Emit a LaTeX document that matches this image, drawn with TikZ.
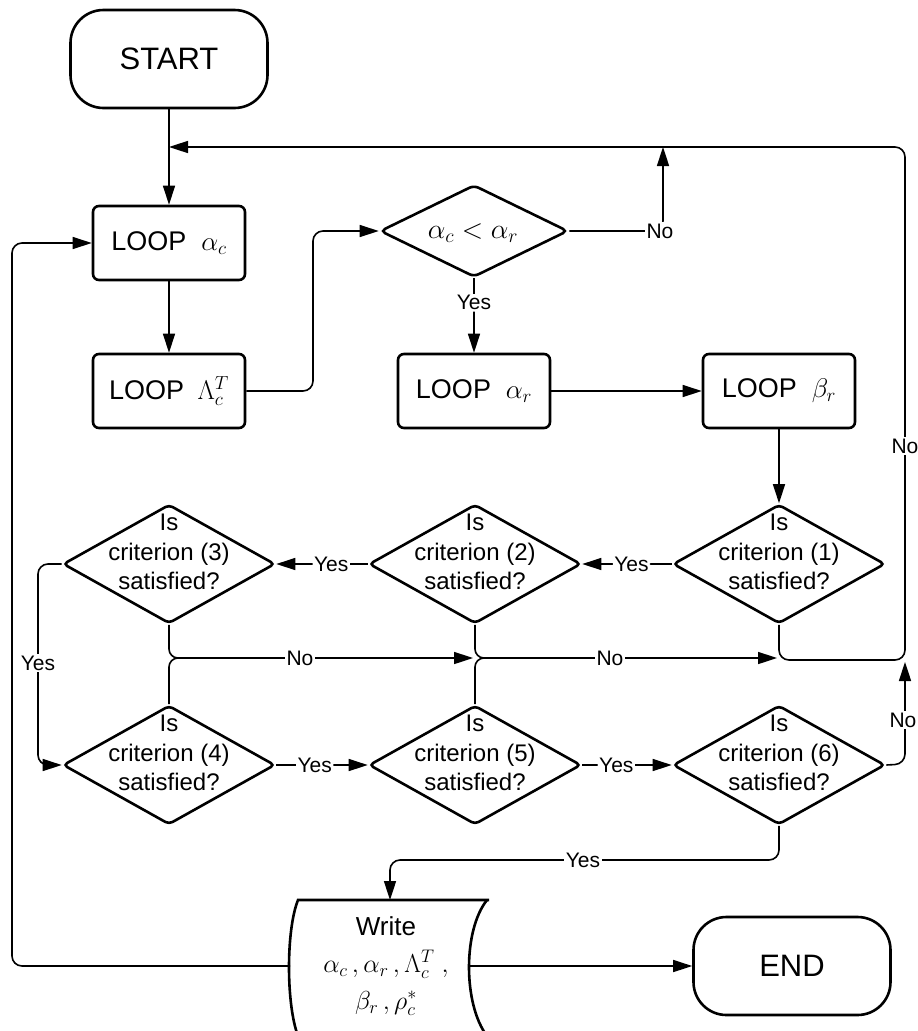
\RequirePackage{fix-cm}
\documentclass[tikz,border=0pt]{standalone}
\usepackage{fontspec}
\setmainfont{Liberation Sans}
\usetikzlibrary{arrows.meta,shapes.geometric}
\begin{document}
\begin{tikzpicture}[x=1pt,y=-1pt,
  shp/.style={draw, line width=2.6pt},
  term/.style={shp, rounded corners=33pt, minimum width=197pt, minimum height=98pt, font=\fontsize{31}{36}\selectfont},
  loopbox/.style={shp, rounded corners=6pt, minimum width=152pt, minimum height=74pt, font=\fontsize{27}{32}\selectfont},
  dia/.style={shp, diamond, rounded corners=4pt, minimum width=212pt, minimum height=119pt, inner sep=0pt},
  crit/.style={font=\fontsize{24}{29.5}\selectfont, align=center, inner sep=0pt},
  conn/.style={line width=1.6pt, rounded corners=10pt},
  arr/.style={conn, -{Triangle[length=19pt,width=12pt]}},
  lab/.style={fill=white, inner sep=1.5pt, font=\fontsize{21}{24}\selectfont},
]
\useasboundingbox (0,0) rectangle (918,1031);

% nodes
\node[term] (start) at (169,59) {START};
\node[loopbox] (loopac) at (169,243) {LOOP\hspace{0.55em}$\alpha_c$};
\node[loopbox] (loopL) at (169,391) {LOOP\hspace{0.5em}$\Lambda_c^T$};
\node[shp, diamond, rounded corners=5pt, minimum width=188pt, minimum height=92pt, inner sep=0pt] (dac) at (474,231) {};
\node[font=\fontsize{28}{32}\selectfont, inner sep=0pt] (tdac) at (473,233) {$\alpha_c < \alpha_r$};
\node[loopbox] (loopar) at (474,391) {LOOP\hspace{0.55em}$\alpha_r$};
\node[loopbox] (loopbr) at (779,391) {LOOP\hspace{0.55em}$\beta_r$};

\node[dia] (c1) at (779,564) {};
\node[dia] (c2) at (475,564) {};
\node[dia] (c3) at (169,564) {};
\node[dia] (c4) at (169,765) {};
\node[dia] (c5) at (475,765) {};
\node[dia] (c6) at (779,765) {};
\node[crit] (t1) at ([yshift=12pt]c1.center) {Is\\criterion (1)\\satisfied?};
\node[crit] (t2) at ([yshift=12pt]c2.center) {Is\\criterion (2)\\satisfied?};
\node[crit] (t3) at ([yshift=12pt]c3.center) {Is\\criterion (3)\\satisfied?};
\node[crit] (t4) at ([yshift=12pt]c4.center) {Is\\criterion (4)\\satisfied?};
\node[crit] (t5) at ([yshift=12pt]c5.center) {Is\\criterion (5)\\satisfied?};
\node[crit] (t6) at ([yshift=12pt]c6.center) {Is\\criterion (6)\\satisfied?};

% write shape
\draw[shp] (298,1036) .. controls (286,1004) and (286,930) .. (298,900) -- (489,900);
\draw[shp] (487,900) .. controls (463,930) and (463,1004) .. (487,1036);
\node[font=\fontsize{26}{37}\selectfont, align=center, inner sep=0pt] (write) at (386,966)
  {Write\\$\alpha_c\,,\alpha_r\,,\Lambda_c^T\;,$\\$\beta_r\,,\rho_c^*$};
\coordinate (wtop) at (390,900);
\coordinate (wl) at (290,966);
\coordinate (wr) at (469,966);
\node[term] (end) at (792,966) {END};

% coordinates
\coordinate (j1) at (169,147);

% connectors
\draw[arr] (start) -- (loopac);
\draw[arr] (loopac) -- (loopL);
\draw[arr] (loopL.east) -- (313,391) -- (313,231) -- (dac.west);
\draw[arr] (dac.east) -- (663,231) -- (663,147);
\node[lab] (no0) at (660,231) {No};
\draw[arr] (dac.south) -- node[lab, pos=0.33] (yes0) {Yes} (loopar.north);
\draw[arr] (loopar) -- (loopbr);
\draw[arr] (loopbr) -- (c1);
\draw[arr] (c1.south) -- (779,660) -- (905,660) -- (905,147) -- (j1);
\node[lab] (no1) at (905,446) {No};
\draw[arr] (c1) -- node[lab, pos=0.45] (yes1) {Yes} (c2);
\draw[arr] (c2) -- node[lab, pos=0.4] (yes2) {Yes} (c3);
\draw[arr] (c3.west) -- (38,564) -- (38,765) -- (c4.west);
\node[lab] (yes3) at (38,663) {Yes};
\draw[arr] (c4) -- node[lab, pos=0.42] (yes4) {Yes} (c5);
\draw[arr] (c5) -- node[lab, pos=0.38] (yes5) {Yes} (c6);
\draw[arr] (c6.east) -- (905,764) -- (905,662);
\node[lab] (no6) at (903,720) {No};
\draw[arr] (c6.south) -- (779,860) -- (390,860) -- (wtop);
\node[lab] (yes6) at (583,860) {Yes};

\draw[arr, rounded corners=9pt] (c3.south) -- (169,658) -- (473,658);
\draw[conn, rounded corners=9pt] (c4.north) -- (169,658) -- (178,658);
\node[lab] (no34) at (300,658) {No};
\draw[arr, rounded corners=9pt] (c2.south) -- (475,658) -- (777,658);
\draw[conn, rounded corners=9pt] (c5.north) -- (475,658) -- (484,658);
\node[lab] (no25) at (610,658) {No};

\draw[arr] (wl) -- (12,966) -- (12,243) -- (loopac.west);
\draw[arr] (wr) -- (end);
\end{tikzpicture}
\end{document}
